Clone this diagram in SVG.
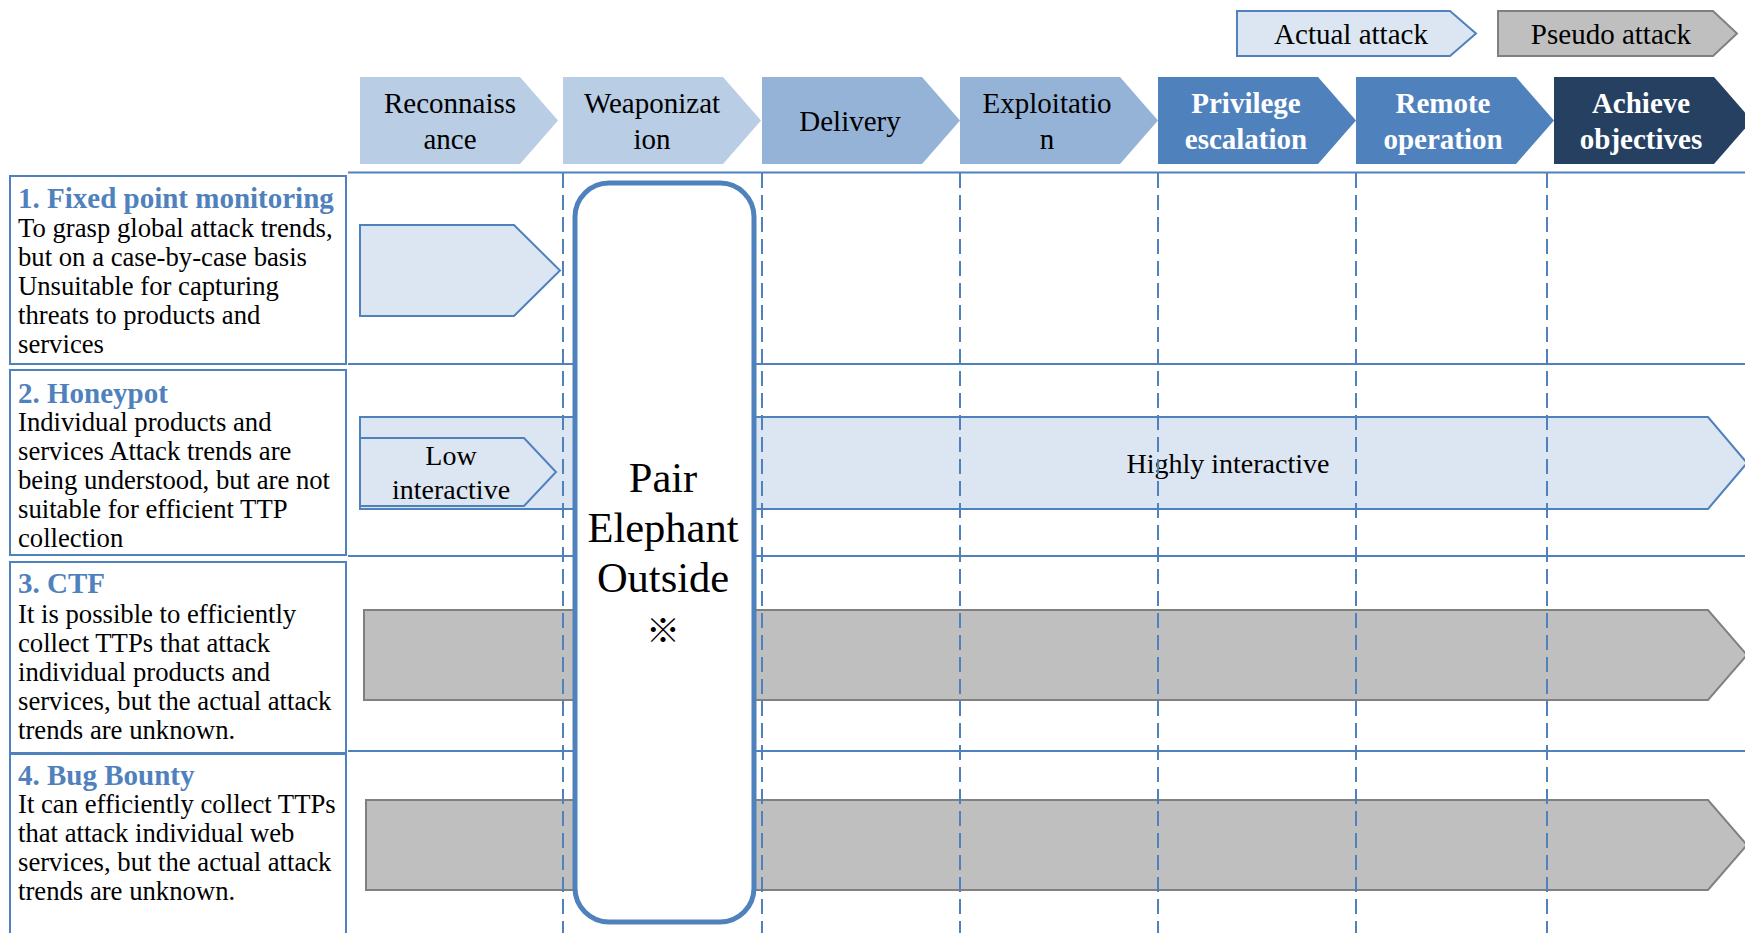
<svg xmlns="http://www.w3.org/2000/svg" width="1745" height="933" viewBox="0 0 1745 933">
<style>
.t{font-family:"Liberation Serif","Times New Roman",serif;fill:#000}
.hd{font-size:29px;text-anchor:middle}
.hw{font-size:29px;text-anchor:middle;font-weight:bold;fill:#fff}
.ttl{font-size:29px;font-weight:bold;fill:#4F81BD}
.body{font-size:26.7px}
.lbl{font-size:28px;text-anchor:middle}
.leg{font-size:29px;text-anchor:middle}
.grid{stroke:#4F81BD;stroke-width:2;fill:none}
.dash{stroke:#4F81BD;stroke-width:2;stroke-dasharray:15 7;fill:none}
.act{fill:#DCE6F2;stroke:#4F81BD;stroke-width:2}
.pse{fill:#BFBFBF;stroke:#808080;stroke-width:2}
.box{fill:#fff;stroke:#4F81BD;stroke-width:2}
</style>

<g id="legend">
  <g id="legend-actual">
    <path class="act" d="M1237 11 H1450 L1476 33.5 L1450 56 H1237 Z"/>
    <text class="t leg" x="1351" y="44">Actual attack</text>
  </g>
  <g id="legend-pseudo">
    <path class="pse" d="M1498 11 H1713 L1737 33.5 L1713 56 H1498 Z"/>
    <text class="t leg" x="1611" y="44">Pseudo attack</text>
  </g>
</g>

<g id="header">
  <g id="h-recon">
    <path fill="#B9CDE5" d="M360 77 H520 L558 120.5 L520 164 H360 Z"/>
    <text class="t hd"><tspan x="450" y="113">Reconnaiss</tspan><tspan x="450" y="149">ance</tspan></text>
  </g>
  <g id="h-weapon">
    <path fill="#B9CDE5" d="M563 77 H723 L761 120.5 L723 164 H563 Z"/>
    <text class="t hd"><tspan x="652" y="113">Weaponizat</tspan><tspan x="652" y="149">ion</tspan></text>
  </g>
  <g id="h-delivery">
    <path fill="#95B3D7" d="M762 77 H922 L960 120.5 L922 164 H762 Z"/>
    <text class="t hd" x="850" y="131">Delivery</text>
  </g>
  <g id="h-exploit">
    <path fill="#95B3D7" d="M960 77 H1120 L1158 120.5 L1120 164 H960 Z"/>
    <text class="t hd"><tspan x="1047" y="113">Exploitatio</tspan><tspan x="1047" y="149">n</tspan></text>
  </g>
  <g id="h-priv">
    <path fill="#4F81BD" d="M1158 77 H1318 L1356 120.5 L1318 164 H1158 Z"/>
    <text class="t hw"><tspan x="1246" y="113">Privilege</tspan><tspan x="1246" y="149">escalation</tspan></text>
  </g>
  <g id="h-remote">
    <path fill="#4F81BD" d="M1356 77 H1516 L1554 120.5 L1516 164 H1356 Z"/>
    <text class="t hw"><tspan x="1443" y="113">Remote</tspan><tspan x="1443" y="149">operation</tspan></text>
  </g>
  <g id="h-achieve">
    <path fill="#254061" d="M1554 77 H1714 L1752 120.5 L1714 164 H1554 Z"/>
    <text class="t hw"><tspan x="1641" y="113">Achieve</tspan><tspan x="1641" y="149">objectives</tspan></text>
  </g>
</g>

<g id="grid">
  <line class="grid" x1="348" y1="172.5" x2="1745" y2="172.5"/>
  <line class="grid" x1="348" y1="364" x2="1745" y2="364"/>
  <line class="grid" x1="348" y1="556" x2="1745" y2="556"/>
  <line class="grid" x1="348" y1="751" x2="1745" y2="751"/>
</g>

<g id="row1">
  <rect class="box" x="10" y="176" width="336" height="188"/>
  <text class="t ttl" x="18" y="208">1. Fixed point monitoring</text>
  <text class="t body"><tspan x="18" y="237">To grasp global attack trends,</tspan><tspan x="18" y="266">but on a case-by-case basis</tspan><tspan x="18" y="295">Unsuitable for capturing</tspan><tspan x="18" y="324">threats to products and</tspan><tspan x="18" y="353">services</tspan></text>
  <path class="act" d="M360 225 H514 L560 270.5 L514 316 H360 Z"/>
</g>

<g id="row2">
  <rect class="box" x="10" y="370" width="336" height="185"/>
  <text class="t ttl" x="18" y="403">2. Honeypot</text>
  <text class="t body"><tspan x="18" y="431">Individual products and</tspan><tspan x="18" y="460">services Attack trends are</tspan><tspan x="18" y="489">being understood, but are not</tspan><tspan x="18" y="518">suitable for efficient TTP</tspan><tspan x="18" y="547">collection</tspan></text>
  <g id="highly-interactive">
    <path class="act" d="M360 417 H1708 L1747 463 L1708 509 H360 Z"/>
    <text class="t lbl" x="1228" y="473">Highly interactive</text>
  </g>
  <g id="low-interactive">
    <path class="act" d="M360 438 H524 L556 472 L524 506 H360 Z"/>
    <text class="t lbl"><tspan x="451" y="465">Low</tspan><tspan x="451" y="499">interactive</tspan></text>
  </g>
</g>

<g id="row3">
  <rect class="box" x="10" y="562" width="336" height="191"/>
  <text class="t ttl" x="18" y="593">3. CTF</text>
  <text class="t body"><tspan x="18" y="623">It is possible to efficiently</tspan><tspan x="18" y="652">collect TTPs that attack</tspan><tspan x="18" y="681">individual products and</tspan><tspan x="18" y="710">services, but the actual attack</tspan><tspan x="18" y="739">trends are unknown.</tspan></text>
  <path class="pse" d="M364 610 H1708 L1747 655 L1708 700 H364 Z"/>
</g>

<g id="row4">
  <rect class="box" x="10" y="754" width="336" height="190"/>
  <text class="t ttl" x="18" y="785">4. Bug Bounty</text>
  <text class="t body"><tspan x="18" y="813">It can efficiently collect TTPs</tspan><tspan x="18" y="842">that attack individual web</tspan><tspan x="18" y="871">services, but the actual attack</tspan><tspan x="18" y="900">trends are unknown.</tspan></text>
  <path class="pse" d="M366 800 H1708 L1747 845 L1708 890 H366 Z"/>
</g>

<g id="connectors">
  <line class="dash" x1="563" y1="173" x2="563" y2="933"/>
  <line class="dash" x1="762" y1="173" x2="762" y2="933"/>
  <line class="dash" x1="960" y1="173" x2="960" y2="933"/>
  <line class="dash" x1="1158" y1="173" x2="1158" y2="933"/>
  <line class="dash" x1="1356" y1="173" x2="1356" y2="933"/>
  <line class="dash" x1="1547" y1="173" x2="1547" y2="933"/>
</g>

<g id="pair-elephant-outside">
  <rect x="575" y="183" width="179" height="739" rx="34" ry="34" fill="#fff" stroke="#4F81BD" stroke-width="5"/>
  <text class="t" font-size="42.5" text-anchor="middle"><tspan x="663" y="492">Pair</tspan><tspan x="663" y="542">Elephant</tspan><tspan x="663" y="592">Outside</tspan><tspan x="663" y="643" font-size="34" font-family="'Noto Sans CJK JP','DejaVu Sans',sans-serif">※</tspan></text>
</g>
</svg>
